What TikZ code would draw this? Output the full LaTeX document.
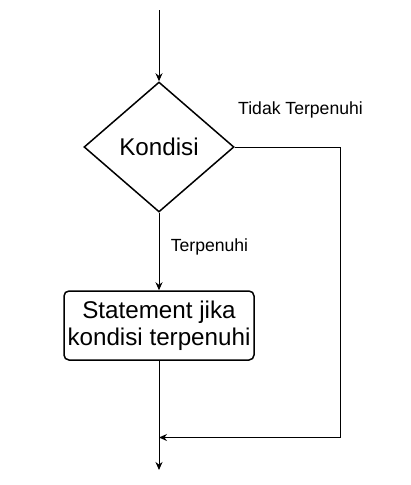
\documentclass[tikz,border=0pt]{standalone}
\usepackage{fontspec}
\setmainfont{Liberation Sans}
\usetikzlibrary{shapes.geometric,arrows.meta}

\begin{document}
\begin{tikzpicture}[x=1pt, y=-1pt, line width=1pt,
    panah/.style={-{Stealth[length=8pt, width=7pt]}},
    cond/.style={diamond, draw, line width=1.5pt, minimum width=150pt, minimum height=130pt, inner sep=0pt, font=\fontsize{24.2}{27.5}\selectfont},
    stmtbox/.style={draw, line width=1.5pt, rounded corners=5pt, minimum width=190pt, minimum height=69pt, align=center, inner sep=0pt, font=\fontsize{24.2}{27.5}\selectfont},
    lbl/.style={font=\fontsize{17.6}{20}\selectfont, inner sep=0pt}]
    \useasboundingbox (0,0) rectangle (411,485);

    \node[cond] (kondisi) at (159,147) {Kondisi};
    \node[stmtbox] (stmt) at (159,325.5) {Statement jika\\kondisi terpenuhi};

    \node[lbl] (tidak) at (300.5,110) {Tidak Terpenuhi};
    \node[lbl] (ya) at (209.5,247) {Terpenuhi};

    \coordinate (start) at (159,10);
    \coordinate (bawah) at (340,437.5);
    \coordinate (gabung) at (159,437.5);
    \coordinate (akhir) at (159,470);

    \draw[panah] (start) -- (kondisi.north);
    \draw[panah] (kondisi.south) -- (stmt.north);
    \draw[panah] (kondisi.east) -| (bawah) -- (gabung);
    \draw[panah] (stmt.south) -- (akhir);
\end{tikzpicture}
\end{document}
